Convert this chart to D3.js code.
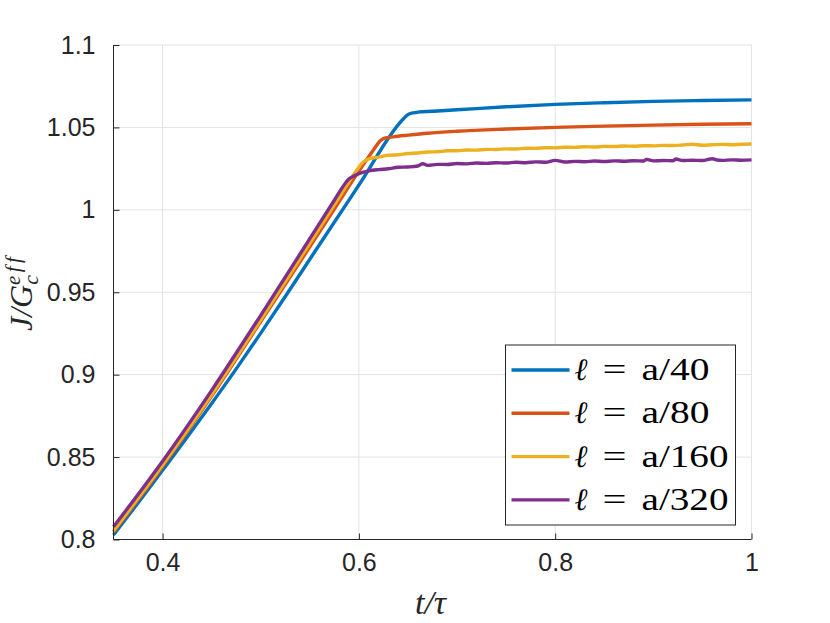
<!DOCTYPE html>
<html>
<head>
<meta charset="utf-8">
<script src="https://cdn.jsdelivr.net/npm/d3@7"></script>
<style>
  html, body { margin: 0; padding: 0; background: #fff; }
  svg { display: block; }
</style>
</head>
<body>
<svg id="chart" width="830" height="623"></svg>
<script>
// ---------------- DATA ----------------
const seriesNames = ["a/40", "a/80", "a/160", "a/320"];
const seriesColors = ["#0072BD", "#D95319", "#EDB120", "#7E2F8E"];

const t40 = [0.35,0.375,0.40,0.425,0.45,0.475,0.50,0.525,0.55,0.60,0.645,0.650,0.655,0.662,0.68,0.70,0.75,0.80,0.85,0.90,0.95,1.00];
const j40 = [0.8027,0.8222,0.8420,0.8620,0.8825,0.9035,0.9252,0.9474,0.9700,1.0150,1.0550,1.0578,1.0588,1.0594,1.0600,1.0607,1.0625,1.0640,1.0650,1.0658,1.0663,1.0667];

const t80 = [0.35,0.40,0.45,0.50,0.55,0.575,0.60,0.615,0.622,0.627,0.635,0.65,0.67,0.70,0.75,0.80,0.85,0.90,0.95,1.00];
const j80 = [0.8045,0.8443,0.8870,0.9322,0.9775,1.0005,1.0235,1.0365,1.0420,1.0436,1.0443,1.0453,1.0465,1.0477,1.0490,1.0500,1.0508,1.0514,1.0519,1.0522];

const t160 = [0.35,0.40,0.45,0.50,0.55,0.575,0.59,0.598,0.603,0.607,0.612,
  0.62,0.63,0.64,0.65,0.66,0.67,0.68,0.69,0.70,0.71,0.72,0.73,0.74,0.75,0.76,0.77,0.78,0.79,0.80,
  0.81,0.82,0.83,0.84,0.85,0.86,0.87,0.88,0.89,0.90,0.91,0.92,0.93,0.94,0.95,0.96,0.97,0.98,0.99,1.00];
const j160 = [0.8052,0.8452,0.8880,0.9333,0.9797,1.0030,1.0170,1.0242,1.0282,1.0300,1.0312,
  1.0320,1.0331,1.0334,1.0342,1.0345,1.0351,1.0352,1.0358,1.0358,1.0363,1.0362,1.0367,1.0366,1.0370,1.0369,1.0374,1.0373,1.0377,1.0376,
  1.0380,1.0379,1.0383,1.0381,1.0385,1.0384,1.0387,1.0386,1.0389,1.0388,1.0391,1.0390,1.0393,1.0398,1.0392,1.0395,1.0397,1.0395,1.0398,1.0399];

const t320 = [0.35,0.40,0.45,0.50,0.55,0.575,0.586,0.590,0.595,0.60,0.61,
  0.62,0.63,0.64,0.65,0.66,0.665,0.67,0.68,0.69,0.70,0.71,0.72,0.73,0.74,0.75,0.76,0.77,0.78,0.79,0.80,
  0.81,0.82,0.83,0.84,0.85,0.86,0.87,0.88,0.89,0.893,0.90,0.91,0.92,0.923,0.93,0.94,0.95,0.96,0.965,0.97,0.98,0.99,1.00];
const j320 = [0.8077,0.8475,0.8905,0.9360,0.9825,1.0058,1.0160,1.0188,1.0205,1.0220,1.0236,
  1.0244,1.0249,1.0258,1.0260,1.0266,1.0280,1.0270,1.0276,1.0275,1.0281,1.0279,1.0284,1.0282,1.0286,1.0284,1.0289,1.0286,1.0291,1.0289,1.0300,
  1.0290,1.0294,1.0292,1.0296,1.0293,1.0297,1.0295,1.0298,1.0296,1.0306,1.0297,1.0299,1.0298,1.0308,1.0299,1.0301,1.0299,1.0310,1.0302,1.0300,1.0303,1.0301,1.0303];

const xTicks = [0.4, 0.6, 0.8, 1.0];
const xTickLabels = ["0.4", "0.6", "0.8", "1"];
const yTicks = [0.8, 0.85, 0.9, 0.95, 1.0, 1.05, 1.1];
const yTickLabels = ["0.8", "0.85", "0.9", "0.95", "1", "1.05", "1.1"];

const seriesT = [t40, t80, t160, t320];
const seriesJ = [j40, j80, j160, j320];

// ---------------- LAYOUT ----------------
const W = 830, H = 623;
const m = { left: 113.5, top: 45, right: 78.5, bottom: 83.5 };
const iw = W - m.left - m.right, ih = H - m.top - m.bottom;
const axisColor = "#262626";
const gridColor = "#e3e3e3";

const svg = d3.select("#chart");
const g = svg.append("g").attr("transform", `translate(${m.left},${m.top})`);

const x = d3.scaleLinear().domain([0.35, 1.0]).range([0, iw]);
const y = d3.scaleLinear().domain([0.8, 1.1]).range([ih, 0]);

// grid
g.append("g").selectAll("line").data(xTicks).join("line")
  .attr("x1", d => x(d)).attr("x2", d => x(d)).attr("y1", 0).attr("y2", ih)
  .attr("stroke", gridColor).attr("stroke-width", 1);
g.append("g").selectAll("line").data(yTicks).join("line")
  .attr("x1", 0).attr("x2", iw).attr("y1", d => y(d)).attr("y2", d => y(d))
  .attr("stroke", gridColor).attr("stroke-width", 1);

// lines
const line = d3.line().x(d => x(d[0])).y(d => y(d[1])).curve(d3.curveMonotoneX);
seriesT.forEach((ts, i) => {
  const pts = ts.map((t, k) => [t, seriesJ[i][k]]);
  g.append("path").datum(pts)
    .attr("fill", "none")
    .attr("stroke", seriesColors[i])
    .attr("stroke-width", 3.4)
    .attr("stroke-linejoin", "round")
    .attr("d", line);
});

// axes (ticks inward)
const fontSans = "'Liberation Sans', Arial, Helvetica, sans-serif";
const xAxis = d3.axisBottom(x).tickValues(xTicks).tickSize(-6).tickPadding(14)
  .tickFormat((d, i) => xTickLabels[i]);
const gx = g.append("g").attr("transform", `translate(0,${ih})`).call(xAxis);
gx.select(".domain").attr("stroke", axisColor).attr("d", `M0,0H${iw}`);
gx.selectAll(".tick line").attr("stroke", axisColor);
gx.selectAll(".tick text").attr("fill", axisColor)
  .style("font-family", fontSans).style("font-size", "25px");

const yAxis = d3.axisLeft(y).tickValues(yTicks).tickSize(-6).tickPadding(18)
  .tickFormat((d, i) => yTickLabels[i]);
const gy = g.append("g").call(yAxis);
gy.select(".domain").attr("stroke", axisColor).attr("d", `M0,${ih}V0`);
gy.selectAll(".tick line").attr("stroke", axisColor);
gy.selectAll(".tick text").attr("fill", axisColor)
  .style("font-family", fontSans).style("font-size", "25px");

// axis labels
const fontSerif = "'Liberation Serif', 'Times New Roman', serif";
svg.append("text")
  .attr("x", m.left + iw / 2 - 2).attr("y", 614)
  .attr("text-anchor", "middle")
  .style("font-family", fontSerif).style("font-style", "italic").style("font-size", "34px")
  .attr("fill", axisColor)
  .text("t/τ");

const yl = svg.append("text")
  .attr("transform", `translate(32,331) rotate(-90)`)
  .attr("text-anchor", "start")
  .style("font-family", fontSerif).style("font-style", "italic").style("font-size", "32px")
  .style("font-variant-ligatures", "none")
  .attr("fill", axisColor);
yl.append("tspan").attr("x", 0).text("J/G");
yl.append("tspan").attr("dy", 6).style("font-size", "22px").text("c");
yl.append("tspan").attr("dx", -10).attr("dy", -18).style("font-size", "21px")
  .style("letter-spacing", "3.5px").text("eff");

// legend
const lg = svg.append("g").attr("transform", "translate(505.5,345)");
lg.append("rect").attr("width", 230).attr("height", 180)
  .attr("fill", "#fff").attr("stroke", axisColor).attr("stroke-width", 1);
seriesNames.forEach((name, i) => {
  const cy = 25 + i * 43.3;
  lg.append("line").attr("x1", 6).attr("x2", 64).attr("y1", cy).attr("y2", cy)
    .attr("stroke", seriesColors[i]).attr("stroke-width", 3.4);
  const tx = lg.append("text").attr("y", cy + 10)
    .style("font-family", fontSerif).style("font-size", "31px").attr("fill", "#000");
  tx.append("tspan").attr("x", 69).style("font-style", "italic").text("ℓ");
  tx.append("tspan").attr("x", 97).attr("textLength", 24).attr("lengthAdjust", "spacingAndGlyphs").text("=");
  tx.append("tspan").attr("x", 136)
    .attr("textLength", 68 + (name.length - 4) * 19)
    .attr("lengthAdjust", "spacingAndGlyphs").text(name);
});
</script>
</body>
</html>
